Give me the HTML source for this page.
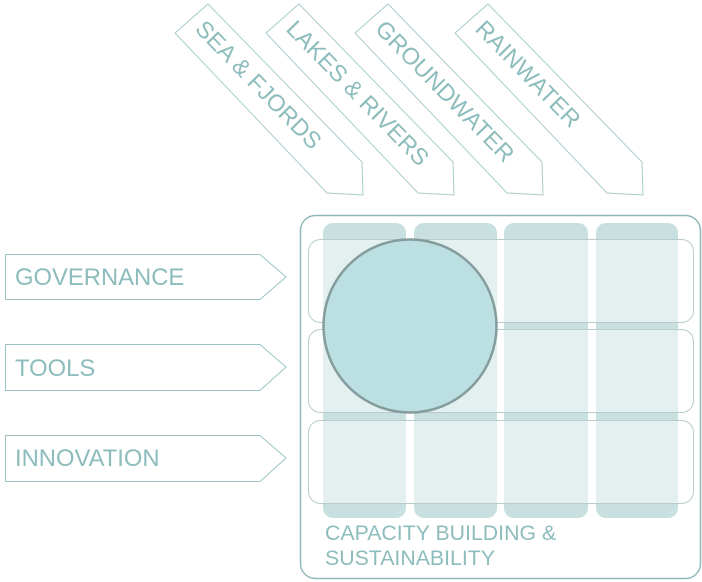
<!DOCTYPE html>
<html><head><meta charset="utf-8"><style>
html,body{margin:0;padding:0;background:#fff;}
svg{display:block;}
text{font-family:"Liberation Sans",sans-serif;fill:#8dbcbc;}
</style></head><body>
<svg width="702" height="582" viewBox="0 0 702 582" xmlns="http://www.w3.org/2000/svg">
<g fill="#fff" stroke="#a9cccc" stroke-width="1">
<polygon points="208,4 362,162 363,195 327,193 175,33"/>
<polygon points="299,4 453,162 454,195 418,193 266,33"/>
<polygon points="388,4 542,162 543,195 507,193 355,33"/>
<polygon points="488,4 642,162 643,195 607,193 455,33"/>
</g>
<g font-size="23.5">
<text transform="translate(191.5,18.5) rotate(45.7)" x="10" dominant-baseline="middle">SEA &amp; FJORDS</text>
<text transform="translate(282.5,18.5) rotate(45.7)" x="10" dominant-baseline="middle">LAKES &amp; RIVERS</text>
<text transform="translate(371.5,18.5) rotate(45.7)" x="10" dominant-baseline="middle">GROUNDWATER</text>
<text transform="translate(471.5,18.5) rotate(45.7)" x="10" dominant-baseline="middle">RAINWATER</text>
</g>
<g fill="#fff" stroke="#9cc3c3" stroke-width="1">
<polygon points="5.5,254.5 260,254.5 286,277 260,299.5 5.5,299.5"/>
<polygon points="5.5,344.5 260,344.5 286,367 260,390.5 5.5,390.5"/>
<polygon points="5.5,435.5 260,435.5 286,458 260,481.5 5.5,481.5"/>
</g>
<g font-size="23.8">
<text x="15" y="285">GOVERNANCE</text>
<text x="15" y="376">TOOLS</text>
<text x="15" y="466">INNOVATION</text>
</g>
<rect x="300.5" y="215.5" width="400" height="363" rx="15" fill="#fff" stroke="#8fb8b8" stroke-width="1.5"/>
<g fill="#c8e0e0">
<rect x="323" y="223" width="83" height="295" rx="10"/>
<rect x="414" y="223" width="83" height="295" rx="10"/>
<rect x="504" y="223" width="84" height="295" rx="10"/>
<rect x="596" y="223" width="82" height="295" rx="10"/>
</g>
<g fill="#fff" fill-opacity="0.5" stroke="#b8cccc" stroke-width="1">
<rect x="308.5" y="239.5" width="385" height="83" rx="12"/>
<rect x="308.5" y="329.5" width="385" height="83" rx="12"/>
<rect x="308.5" y="420.5" width="385" height="83" rx="12"/>
</g>
<circle cx="410" cy="326" r="86.5" fill="#bcdfe2" stroke="#849c9c" stroke-width="2.5"/>
<g font-size="21.3">
<text x="325" y="540">CAPACITY BUILDING &amp;</text>
<text x="325" y="565">SUSTAINABILITY</text>
</g>
</svg>
</body></html>
